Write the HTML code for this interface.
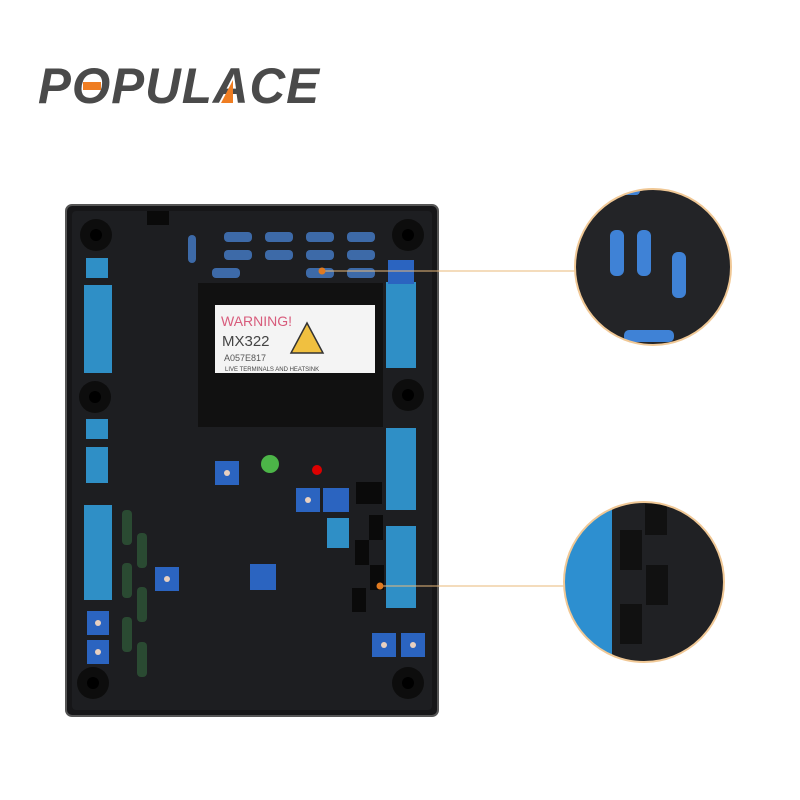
<!DOCTYPE html><html><head><style>body{margin:0;background:#fff}svg{display:block}</style></head><body>
<svg width="800" height="800" viewBox="0 0 800 800" xmlns="http://www.w3.org/2000/svg" font-family="Liberation Sans, sans-serif">
<defs>
<clipPath id="c1"><circle cx="653" cy="267" r="78"/></clipPath>
<clipPath id="c2"><circle cx="644" cy="582" r="80"/></clipPath>
</defs>
<rect width="800" height="800" fill="#fff"/>
<text x="38" y="103" font-size="50" font-weight="bold" font-style="italic" fill="#4a4a4a" letter-spacing="1" textLength="282" lengthAdjust="spacingAndGlyphs">POPULACE</text>
<rect x="83" y="82" width="18" height="8" fill="#ef7d22"/>
<polygon points="221,103 233,80 233,103" fill="#ef7d22"/>
<rect x="66" y="205" width="372" height="511" rx="6" fill="#161618" stroke="#555" stroke-width="2"/>
<rect x="72" y="211" width="360" height="499" rx="4" fill="#1d1e21"/>
<g fill="#0d0d0d"><circle cx="96" cy="235" r="16"/><circle cx="408" cy="235" r="16"/><circle cx="95" cy="397" r="16"/><circle cx="408" cy="395" r="16"/><circle cx="93" cy="683" r="16"/><circle cx="408" cy="683" r="16"/></g>
<g fill="#000"><circle cx="96" cy="235" r="6"/><circle cx="408" cy="235" r="6"/><circle cx="95" cy="397" r="6"/><circle cx="408" cy="395" r="6"/><circle cx="93" cy="683" r="6"/><circle cx="408" cy="683" r="6"/></g>
<g fill="#2f8fc6"><rect x="86" y="258" width="22" height="20"/><rect x="84" y="285" width="28" height="88"/><rect x="86" y="419" width="22" height="20"/><rect x="86" y="447" width="22" height="36"/><rect x="84" y="505" width="28" height="95"/><rect x="386" y="282" width="30" height="86"/><rect x="386" y="428" width="30" height="82"/><rect x="386" y="526" width="30" height="82"/><rect x="327" y="518" width="22" height="30"/></g>
<g fill="#2b64c0"><rect x="87" y="611" width="22" height="24"/><rect x="87" y="640" width="22" height="24"/><rect x="155" y="567" width="24" height="24"/><rect x="215" y="461" width="24" height="24"/><rect x="296" y="488" width="24" height="24"/><rect x="323" y="488" width="26" height="24"/><rect x="250" y="564" width="26" height="26"/><rect x="372" y="633" width="24" height="24"/><rect x="401" y="633" width="24" height="24"/><rect x="388" y="260" width="26" height="24"/></g>
<g fill="#e8d0c0"><circle cx="98" cy="623" r="3"/><circle cx="98" cy="652" r="3"/><circle cx="167" cy="579" r="3"/><circle cx="227" cy="473" r="3"/><circle cx="308" cy="500" r="3"/><circle cx="384" cy="645" r="3"/><circle cx="413" cy="645" r="3"/></g>
<g fill="#3d6aa8"><rect x="224" y="232" width="28" height="10" rx="4"/><rect x="265" y="232" width="28" height="10" rx="4"/><rect x="306" y="232" width="28" height="10" rx="4"/><rect x="347" y="232" width="28" height="10" rx="4"/><rect x="224" y="250" width="28" height="10" rx="4"/><rect x="265" y="250" width="28" height="10" rx="4"/><rect x="306" y="250" width="28" height="10" rx="4"/><rect x="347" y="250" width="28" height="10" rx="4"/><rect x="212" y="268" width="28" height="10" rx="4"/><rect x="306" y="268" width="28" height="10" rx="4"/><rect x="347" y="268" width="28" height="10" rx="4"/><rect x="188" y="235" width="8" height="28" rx="4"/></g>
<rect x="198" y="283" width="185" height="144" fill="#111"/>
<rect x="215" y="305" width="138" height="68" fill="#f4f4f4"/>
<rect x="353" y="305" width="22" height="68" fill="#f4f4f4"/>
<text x="221" y="326" font-size="14" fill="#d85c7c">WARNING!</text>
<text x="222" y="346" font-size="15" fill="#444">MX322</text>
<text x="224" y="361" font-size="9" fill="#555">A057E817</text>
<text x="225" y="371" font-size="6" fill="#444">LIVE TERMINALS AND HEATSINK</text>
<polygon points="307,323 291,353 323,353" fill="#f0c040" stroke="#333" stroke-width="1.5"/>
<circle cx="270" cy="464" r="9" fill="#4cb548"/><circle cx="317" cy="470" r="5" fill="#d00"/>
<g fill="#0a0a0a"><rect x="356" y="482" width="26" height="22"/><rect x="369" y="515" width="14" height="25"/><rect x="355" y="540" width="14" height="25"/><rect x="370" y="565" width="14" height="25"/><rect x="352" y="588" width="14" height="24"/><rect x="147" y="211" width="22" height="14"/></g>
<g fill="#2a4a32"><rect x="122" y="510" width="10" height="35" rx="4"/><rect x="137" y="533" width="10" height="35" rx="4"/><rect x="122" y="563" width="10" height="35" rx="4"/><rect x="137" y="587" width="10" height="35" rx="4"/><rect x="122" y="617" width="10" height="35" rx="4"/><rect x="137" y="642" width="10" height="35" rx="4"/></g>
<line x1="322" y1="271" x2="576" y2="271" stroke="#e9b97a" stroke-width="1"/>
<line x1="380" y1="586" x2="566" y2="586" stroke="#e9b97a" stroke-width="1"/>
<circle cx="322" cy="271" r="3.5" fill="#e07a20"/><circle cx="380" cy="586" r="3.5" fill="#e07a20"/>
<circle cx="653" cy="267" r="78" fill="#232427"/>
<g clip-path="url(#c1)" fill="#3f82d6"><rect x="610" y="230" width="14" height="46" rx="6"/><rect x="637" y="230" width="14" height="46" rx="6"/><rect x="672" y="252" width="14" height="46" rx="6"/><rect x="624" y="330" width="50" height="12" rx="5"/><rect x="610" y="185" width="30" height="10" rx="4"/></g>
<circle cx="653" cy="267" r="78" fill="none" stroke="#f0c896" stroke-width="2"/>
<circle cx="644" cy="582" r="80" fill="#202124"/>
<g clip-path="url(#c2)"><rect x="565" y="500" width="47" height="170" fill="#2d8fd0"/>
<g fill="#111"><rect x="620" y="530" width="22" height="40"/><rect x="646" y="565" width="22" height="40"/><rect x="620" y="604" width="22" height="40"/><rect x="645" y="500" width="22" height="35"/></g></g>
<circle cx="644" cy="582" r="80" fill="none" stroke="#f0c896" stroke-width="2"/>
</svg></body></html>
